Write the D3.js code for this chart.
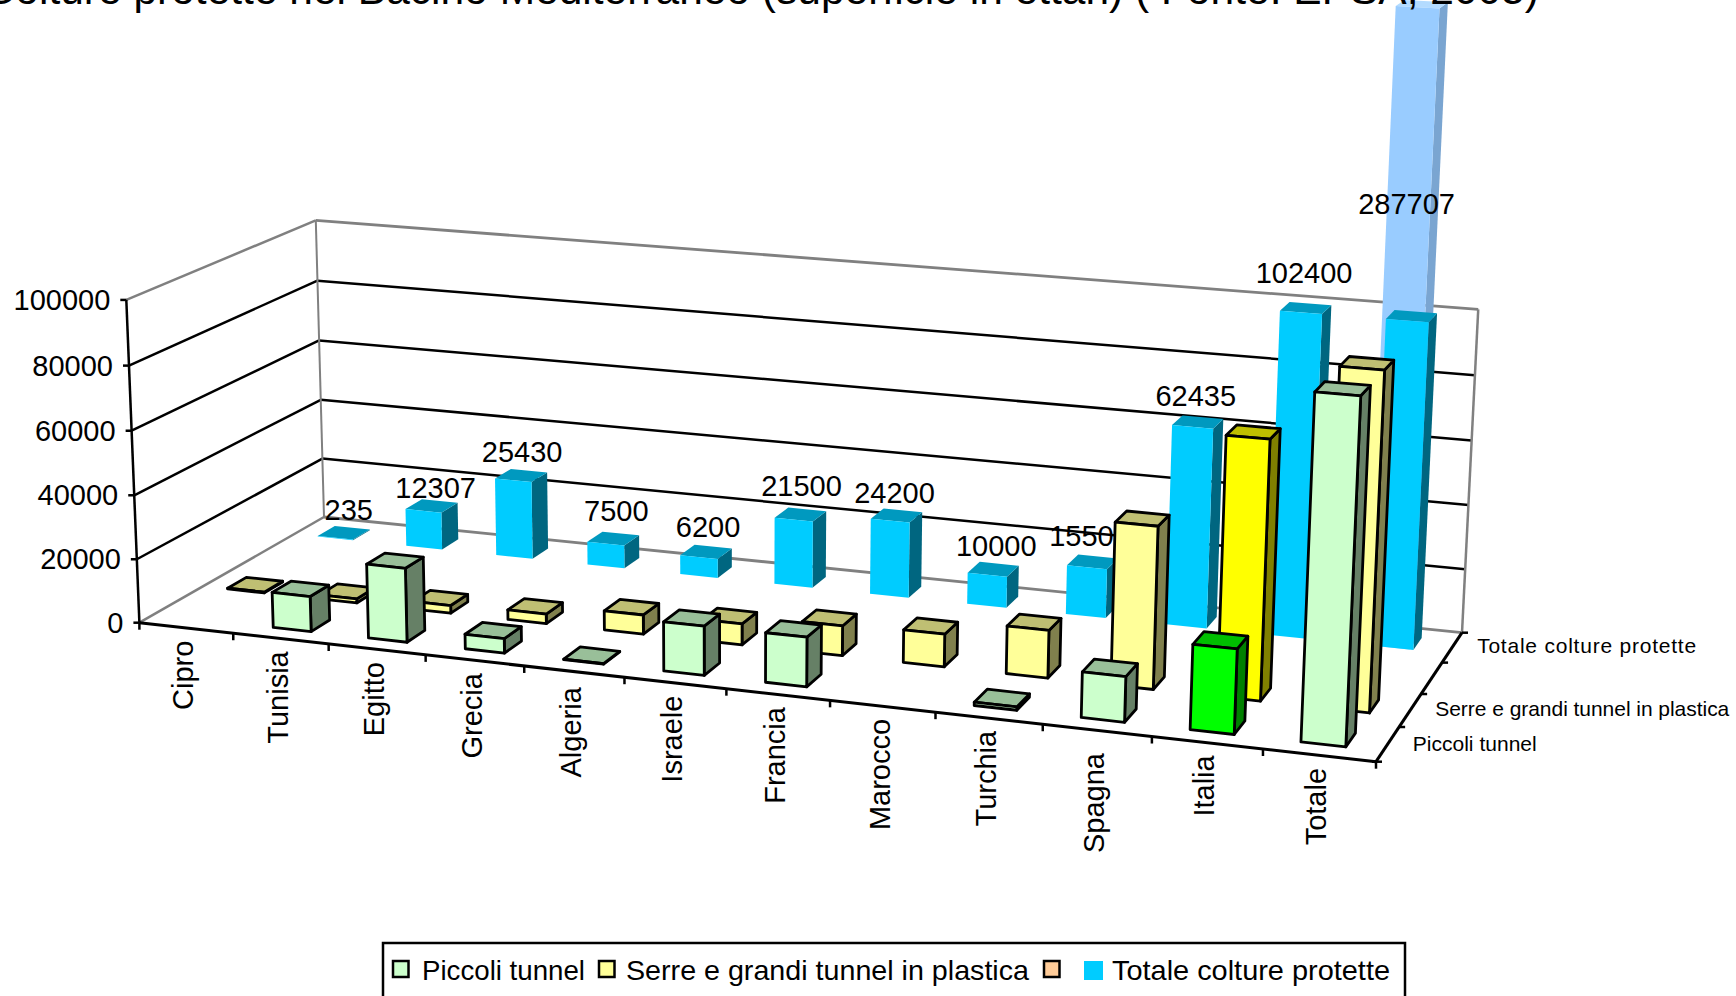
<!DOCTYPE html>
<html lang="it">
<head>
<meta charset="utf-8">
<title>Colture protette nel Bacino Mediterraneo</title>
<script src="https://cdnjs.cloudflare.com/ajax/libs/d3/7.9.0/d3.min.js"></script>
<style>
  html, body { margin: 0; padding: 0; background: #fff; overflow: hidden; }
  svg { display: block; }
  text { font-family: "Liberation Sans", Arial, sans-serif; fill: #000; }
</style>
</head>
<body>
<svg id="chart" width="1736" height="996"></svg>
<script>
// Superfici in ettari per paese
const categories = ["Cipro", "Tunisia", "Egitto", "Grecia", "Algeria", "Israele", "Francia", "Marocco", "Turchia", "Spagna", "Italia", "Totale"];
const piccoliTunnel = [0, 11000, 23000, 4500, 200, 15000, 15000, 0, 1000, 13500, 25000, 108200];
const serreTunnel = [235, 1307, 2430, 3000, 6000, 6500, 9200, 10000, 14500, 48935, 77400, 179507];
const totaleColture = [235, 12307, 25430, 7500, 6200, 21500, 24200, 10000, 15500, 62435, 102400, 287707];
const seriesNames = ["Piccoli tunnel", "Serre e grandi tunnel in plastica", "", "Totale colture protette"];
const axisLabelledSeries = ["Piccoli tunnel", "Serre e grandi tunnel in plastica", "Totale colture protette"];
const valueTicks = [0, 20000, 40000, 60000, 80000, 100000];
const titleText = "Colture protette nel Bacino Mediterraneo (superficie in ettari) ( Fonte: EPSA, 2005)";

const seriesColors = ["#ccffcc", "#ffff99", "#ffcc99", "#00ccff"];
const accentColors = { "Piccoli tunnel": "#00ff00", "Serre e grandi tunnel in plastica": "#ffff00" };
const accentCategory = "Italia";
const overflowCategory = "Totale";
const overflowColor = "#99ccff";

// Ritocchi di posizione delle etichette, in pixel
const totalLabelNudgeX = [5, 4, 1, 3, 2, 1, -2, 3, -3, -2, -2, 0];
const totalLabelNudgeY = [3, 8, 2, -2, 1, -3, 3, 3, 0, 0, -1, 0];
const categoryLabelNudge = { Algeria: 3, Spagna: 10 };
const seriesLabelNudge = [2, 0, 0];
const seriesLabelLength = [124, 294, 219];
const legendLabelLength = [163, 403, 0, 278];

// Angoli del pavimento e dei bordi superiori delle pareti, in pixel
const floorQuad = [[139.4, 622.7], [1376, 761.7], [1462, 632.7], [324, 517]];
const wallTops = [
  { u: 0, v: 0, at: [123, 298], weight: 1 },
  { u: 0, v: 1, at: [316.6, 221.4], weight: 2 },
  { u: 1, v: 1, at: [1478, 306.7], weight: 1 }
];

// Omografia dal quadrato unitario al pavimento
function squareToQuad(q) {
  const [[x0, y0], [x1, y1], [x2, y2], [x3, y3]] = q;
  const sx = x0 - x1 + x2 - x3, sy = y0 - y1 + y2 - y3;
  const dx1 = x1 - x2, dx2 = x3 - x2, dy1 = y1 - y2, dy2 = y3 - y2;
  const den = dx1 * dy2 - dx2 * dy1;
  const g = (sx * dy2 - dx2 * sy) / den;
  const h = (dx1 * sy - sx * dy1) / den;
  return [
    [x1 - x0 + g * x1, x3 - x0 + h * x3, x0],
    [y1 - y0 + g * y1, y3 - y0 + h * y3, y0],
    [g, h, 1]
  ];
}
const H = squareToQuad(floorQuad);

function solve3(A, b) {
  const M = A.map((r, i) => [...r, b[i]]);
  for (let i = 0; i < 3; i++) {
    let p = i;
    for (let k = i + 1; k < 3; k++) if (Math.abs(M[k][i]) > Math.abs(M[p][i])) p = k;
    [M[i], M[p]] = [M[p], M[i]];
    for (let k = 0; k < 3; k++) {
      if (k === i) continue;
      const f = M[k][i] / M[i][i];
      for (let j = i; j < 4; j++) M[k][j] -= f * M[i][j];
    }
  }
  return M.map((r, i) => r[3] / r[i]);
}

// Colonna verticale della proiezione, ai minimi quadrati pesati sui tre spigoli alti
const verticalColumn = (() => {
  const rows = [], rhs = [];
  wallTops.forEach(({ u, v, at: [xt, yt], weight }) => {
    const X = H[0][0] * u + H[0][1] * v + H[0][2];
    const Y = H[1][0] * u + H[1][1] * v + H[1][2];
    const Z = H[2][0] * u + H[2][1] * v + H[2][2];
    rows.push([weight, 0, -xt * weight]); rhs.push((xt * Z - X) * weight);
    rows.push([0, weight, -yt * weight]); rhs.push((yt * Z - Y) * weight);
  });
  const AtA = [0, 1, 2].map(i => [0, 1, 2].map(j => d3.sum(rows, r => r[i] * r[j])));
  const Atb = [0, 1, 2].map(i => d3.sum(rows, (r, k) => r[i] * rhs[k]));
  return solve3(AtA, Atb);
})();

function project(u, v, w) {
  const X = H[0][0] * u + H[0][1] * v + H[0][2] + verticalColumn[0] * w;
  const Y = H[1][0] * u + H[1][1] * v + H[1][2] + verticalColumn[1] * w;
  const Z = H[2][0] * u + H[2][1] * v + H[2][2] + verticalColumn[2] * w;
  return [X / Z, Y / Z];
}

// Scale: paese lungo il fronte, serie in profondita, valore in altezza
const uScale = d3.scaleBand(categories, [0, 1]).paddingInner(0.6).paddingOuter(0.3).align(0.45);
const vScale = d3.scaleBand(seriesNames, [0, 1]).paddingInner(0.6).paddingOuter(0.3);
const wScale = d3.scaleLinear().domain([0, 100000]).range([0, 1]);
const wClamped = d3.scaleLinear().domain([0, 100000]).range([0, 1]).clamp(true);
const wOverflow = d3.scaleLinear().domain([100000, 287707]).range([1, 1.917]);

const uStep = uScale.step();
const vStep = vScale.step();
const uBoundaries = d3.range(categories.length + 1).map(i => i * uStep);
const vBoundaries = d3.range(seriesNames.length + 1).map(i => i * vStep);

const svg = d3.select("#chart");
const line = d3.line();
const grey = "#808080";

function segment(parent, a, b, stroke, width) {
  parent.append("path").attr("d", line([a, b])).attr("fill", "none")
    .attr("stroke", stroke).attr("stroke-width", width);
}

// Pareti, griglia e assi
const frame = svg.append("g").attr("class", "frame");
const P = (u, v, val) => project(u, v, wScale(val));
valueTicks.filter(t => t > 0 && t < 100000).forEach(t => {
  segment(frame, P(0, 0, t), P(0, 1, t), "#000", 2.5);
  segment(frame, P(0, 1, t), P(1, 1, t), "#000", 2.5);
});
segment(frame, P(0, 0, 100000), P(0, 1, 100000), grey, 2.5);
segment(frame, P(0, 1, 100000), P(1, 1, 100000), grey, 2.8);
segment(frame, P(0, 1, 0), P(0, 1, 100000), grey, 2);
segment(frame, P(1, 1, 0), P(1, 1, 100000), grey, 2.5);
segment(frame, P(0, 0, 0), P(0, 1, 0), grey, 2.5);
segment(frame, P(0, 1, 0), P(1, 1, 0), grey, 2.8);

segment(frame, P(0, 0, 0), P(0, 0, 100000), "#000", 2.5);
segment(frame, P(0, 0, 0), P(1, 0, 0), "#000", 3);
segment(frame, P(1, 0, 0), P(1, 1, 0), "#000", 3);

valueTicks.forEach(t => {
  const [x, y] = P(0, 0, t);
  segment(frame, [x - 6, y], [x, y], "#000", 2.5);
  frame.append("text").attr("x", x - 16).attr("y", y).attr("dy", "0.35em")
    .attr("text-anchor", "end").attr("font-size", 29).text(t);
});
uBoundaries.forEach(u => {
  const [x, y] = P(u, 0, 0);
  segment(frame, [x, y], [x, y + 7], "#000", 2.5);
});
vBoundaries.forEach(v => {
  const [x, y] = P(1, v, 0);
  segment(frame, [x - (v === 0 ? 4 : 0), y], [x + 6, y], "#000", 2.5);
});
categories.forEach(c => {
  const [x, y] = P(uScale(c) + uScale.bandwidth() / 2, 0, 0);
  frame.append("text")
    .attr("transform", `translate(${x},${y + 13 + (categoryLabelNudge[c] || 0)}) rotate(-90)`)
    .attr("dy", "0.35em").attr("text-anchor", "end").attr("font-size", 29).text(c);
});
axisLabelledSeries.forEach((s, i) => {
  const [x, y] = P(1, vScale(s) + vScale.bandwidth() / 2, 0);
  frame.append("text").attr("x", x + 25).attr("y", y - 2 + seriesLabelNudge[i]).attr("dy", "0.35em")
    .attr("font-size", 21).attr("textLength", seriesLabelLength[i])
    .attr("lengthAdjust", "spacing").text(s);
});

const shade = (color, k) => {
  const c = d3.rgb(color);
  return d3.rgb(c.r * k, c.g * k, c.b * k).formatHex();
};

// Colonna 3D: fronte, fianco destro e faccia superiore
function drawBar(parent, cat, ser, w, color, opts = {}) {
  const shift = opts.shift || 0;
  const u0 = uScale(cat) + shift, u1 = uScale(cat) + uScale.bandwidth() + shift;
  const v0 = vScale(ser), v1 = v0 + vScale.bandwidth();
  const stroke = opts.stroke || "none";
  const g = parent.append("g").attr("class", "bar");
  const face = (corners, fill) => g.append("path")
    .attr("d", line(corners.map(([u, v, h]) => project(u, v, h))) + "Z")
    .attr("fill", fill).attr("stroke", stroke).attr("stroke-width", 2.8)
    .attr("stroke-linejoin", "round");
  face([[u1, v0, 0], [u1, v1, 0], [u1, v1, w], [u1, v0, w]], opts.side || shade(color, 0.5));
  face([[u0, v0, w], [u1, v0, w], [u1, v1, w], [u0, v1, w]], opts.top || shade(color, 0.75));
  face([[u0, v0, 0], [u1, v0, 0], [u1, v0, w], [u0, v0, w]], color);
}

// Fila di fondo con le etichette del totale
const totalName = seriesNames[3];
const backRow = svg.append("g").attr("class", "row-totale");
categories.forEach((c, i) => {
  const value = totaleColture[i];
  if (c === overflowCategory) {
    drawBar(backRow, c, totalName, wOverflow(value), overflowColor,
      { shift: -0.003, side: "#7aa5d1", top: "#b3dbff" });
  }
  drawBar(backRow, c, totalName, wClamped(value), seriesColors[3]);
});
categories.forEach((c, i) => {
  const value = totaleColture[i];
  const uMid = uScale(c) + uScale.bandwidth() / 2;
  const vMid = vScale(totalName) + vScale.bandwidth() / 2;
  const overflow = c === overflowCategory;
  const [x, y] = project(uMid, vMid, overflow ? 1 : wScale(value));
  backRow.append("text")
    .attr("x", (overflow ? x - 5 : x) + totalLabelNudgeX[i])
    .attr("y", (overflow ? y - 112 : y - 26) + totalLabelNudgeY[i])
    .attr("dy", "0.35em").attr("text-anchor", "middle")
    .attr("font-size", 29).text(value);
});

// File anteriori, dalla piu lontana alla piu vicina
[[seriesNames[1], serreTunnel, seriesColors[1]], [seriesNames[0], piccoliTunnel, seriesColors[0]]]
  .forEach(([name, values, color]) => {
    const row = svg.append("g").attr("class", "row");
    categories.forEach((c, i) => {
      if (values[i] <= 0) return;
      drawBar(row, c, name, wClamped(values[i]),
        c === accentCategory ? accentColors[name] : color, { stroke: "#000" });
    });
  });

// Legenda, tagliata dal bordo inferiore
const legend = svg.append("g").attr("class", "legend");
legend.append("rect").attr("x", 383).attr("y", 943).attr("width", 1022).attr("height", 70)
  .attr("fill", "#fff").attr("stroke", "#000").attr("stroke-width", 2.5);
const swatchX = [393, 599, 1044, 1084];
const labelX = [422, 626, null, 1112];
seriesNames.forEach((name, i) => {
  legend.append("rect").attr("x", swatchX[i]).attr("y", 961)
    .attr("width", i === 3 ? 19 : 15.5).attr("height", i === 3 ? 19 : 16)
    .attr("fill", seriesColors[i]).attr("stroke", i === 3 ? "none" : "#000").attr("stroke-width", 2.5);
  if (name) {
    legend.append("text").attr("x", labelX[i]).attr("y", 980)
      .attr("font-size", 28.5).attr("textLength", legendLabelLength[i])
      .attr("lengthAdjust", "spacingAndGlyphs").text(name);
  }
});

// Titolo, tagliato dal bordo superiore
svg.append("text").attr("x", 1539).attr("y", 4).attr("text-anchor", "end")
  .attr("font-size", 42.5).text(titleText);
</script>
</body>
</html>
